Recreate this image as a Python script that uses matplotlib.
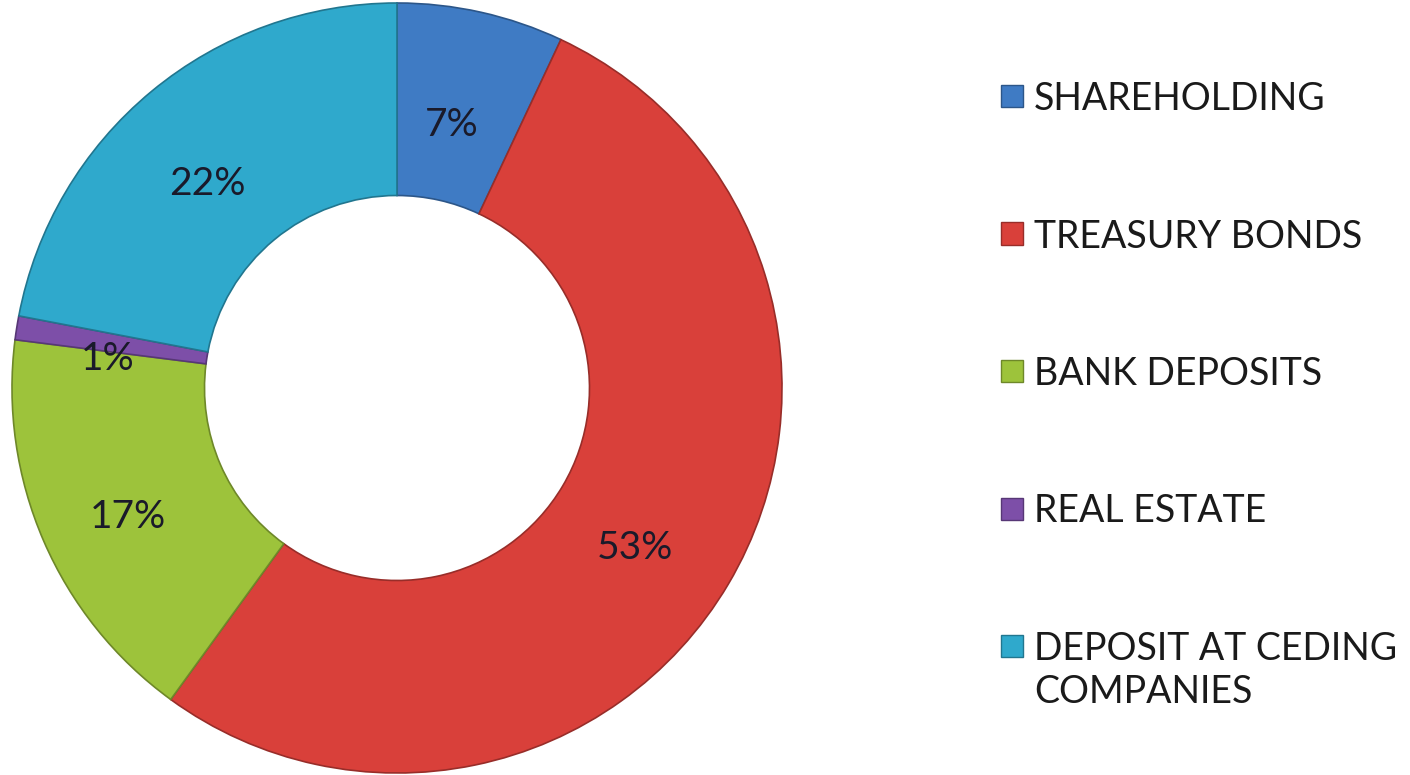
import matplotlib.pyplot as plt
from matplotlib.colors import to_rgb
from matplotlib.patches import Rectangle

categories = ['SHAREHOLDING', 'TREASURY BONDS', 'BANK DEPOSITS', 'REAL ESTATE',
              'DEPOSIT AT CEDING\nCOMPANIES']
shares = [7, 53, 17, 1, 22]
colors = ['#3f7bc4', '#d9403a', '#9dc33b', '#7d4fa8', '#2fa9cc']

plt.rcParams['font.family'] = ['Lato', 'DejaVu Sans']

W, H = 1410, 775
fig = plt.figure(figsize=(W / 100, H / 100), dpi=100)

# donut axes placed in pixel terms: centre (397, 388), radius 385
cx, cy, r = 397, 388, 385
ax = fig.add_axes([(cx - r) / W, (H - cy - r) / H, 2 * r / W, 2 * r / H])

wedges, texts, autotexts = ax.pie(
    shares, colors=colors, startangle=90, counterclock=False,
    autopct='%1.0f%%', pctdistance=0.74,
    wedgeprops=dict(width=0.5, linewidth=1.2),
    textprops=dict(fontsize=28, color='#1a1a2a'))
for w, c in zip(wedges, colors):
    w.set_edgecolor(tuple(v * 0.7 for v in to_rgb(c)))
for t in autotexts:
    x, y = t.get_position()
    t.set_position((x - 0.02, y - 0.04))
ax.set_xlim(-1, 1)
ax.set_ylim(-1, 1)
ax.set_aspect('equal')

# legend drawn by hand so the marker sits on the first line of a wrapped label
row0, step, box = 96, 137.5, 22
for i, (lab, c) in enumerate(zip(categories, colors)):
    yc = row0 + step * i
    fig.patches.append(Rectangle(((1012 - box / 2) / W, 1 - (yc + box / 2) / H),
                                 box / W, box / H, transform=fig.transFigure,
                                 facecolor=c, edgecolor=tuple(v * 0.7 for v in to_rgb(c)),
                                 linewidth=1))
    fig.text(1034 / W, 1 - (yc - 15) / H, lab, fontsize=27, color='#1a1a1a',
             ha='left', va='top', linespacing=1.25)

fig.savefig('out.png', dpi=100)
